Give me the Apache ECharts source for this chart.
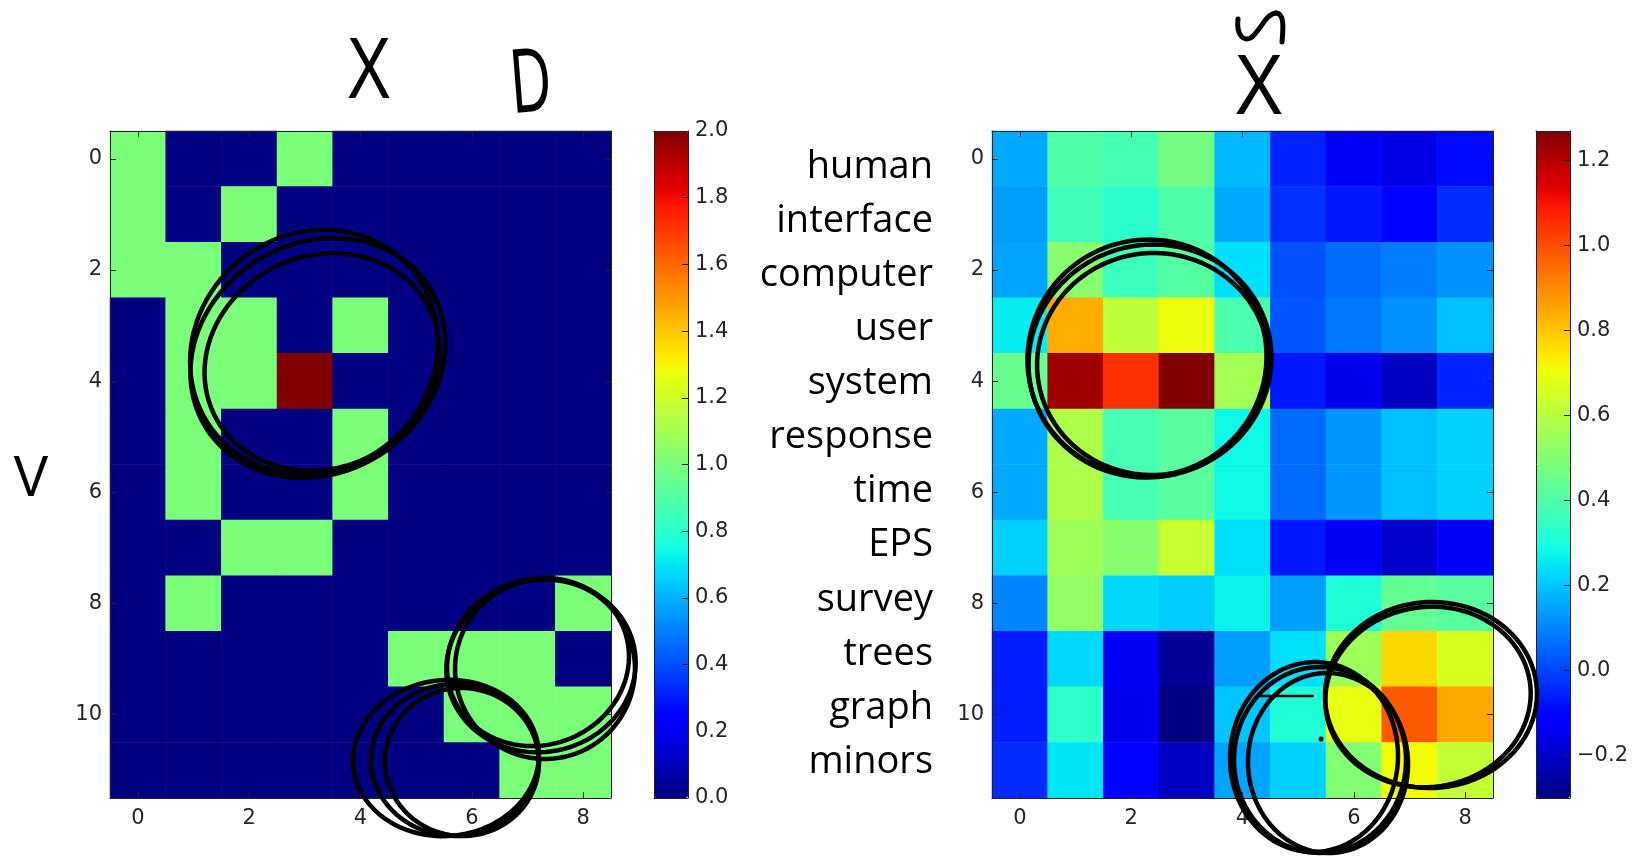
<!DOCTYPE html>
<html>
<head>
<meta charset="utf-8">
<script src="https://cdn.jsdelivr.net/npm/echarts@6/dist/echarts.min.js"></script>
<style>html,body{margin:0;padding:0;background:#fff}#c{width:1633px;height:865px}</style>
</head>
<body>
<div id="c"></div>
<script>
// ---- data ----
const terms = ['human','interface','computer','user','system','response','time','EPS','survey','trees','graph','minors'];
const colLabels = ['0','1','2','3','4','5','6','7','8'];
const rowLabels = ['0','1','2','3','4','5','6','7','8','9','10','11'];
// term-document counts X
const countsX = [
  [1,0,0,1,0,0,0,0,0],
  [1,0,1,0,0,0,0,0,0],
  [1,1,0,0,0,0,0,0,0],
  [0,1,1,0,1,0,0,0,0],
  [0,1,1,2,0,0,0,0,0],
  [0,1,0,0,1,0,0,0,0],
  [0,1,0,0,1,0,0,0,0],
  [0,0,1,1,0,0,0,0,0],
  [0,1,0,0,0,0,0,0,1],
  [0,0,0,0,0,1,1,1,0],
  [0,0,0,0,0,0,1,1,1],
  [0,0,0,0,0,0,0,1,1]
];
// smoothed reconstruction X^s
const smoothXs = [
  [ 0.16, 0.40, 0.38, 0.47, 0.18,-0.05,-0.12,-0.16,-0.09],
  [ 0.14, 0.37, 0.33, 0.40, 0.16,-0.03,-0.07,-0.10,-0.04],
  [ 0.15, 0.51, 0.36, 0.41, 0.24, 0.02, 0.06, 0.09, 0.12],
  [ 0.26, 0.84, 0.61, 0.70, 0.39, 0.03, 0.08, 0.12, 0.19],
  [ 0.45, 1.23, 1.05, 1.27, 0.56,-0.07,-0.15,-0.21,-0.05],
  [ 0.16, 0.58, 0.38, 0.42, 0.28, 0.06, 0.13, 0.19, 0.22],
  [ 0.16, 0.58, 0.38, 0.42, 0.28, 0.06, 0.13, 0.19, 0.22],
  [ 0.22, 0.55, 0.51, 0.63, 0.24,-0.07,-0.14,-0.20,-0.11],
  [ 0.10, 0.53, 0.23, 0.21, 0.27, 0.14, 0.31, 0.44, 0.42],
  [-0.06, 0.23,-0.14,-0.27, 0.14, 0.24, 0.55, 0.77, 0.66],
  [-0.06, 0.34,-0.15,-0.30, 0.20, 0.31, 0.69, 0.98, 0.85],
  [-0.04, 0.25,-0.10,-0.21, 0.15, 0.22, 0.50, 0.71, 0.62]
];
const leftRange = [0, 2];

// ---- helpers ----
function toCells(m){ const out=[]; m.forEach((row,r)=>row.forEach((v,c)=>out.push([c,r,v]))); return out; }
function pw(pts,t){ for(let i=1;i<pts.length;i++){ if(t<=pts[i][0]){ const [x0,y0]=pts[i-1],[x1,y1]=pts[i]; return y0+(y1-y0)*(t-x0)/(x1-x0);} } return pts[pts.length-1][1]; }
function jet(t){
  const r=pw([[0,0],[0.35,0],[0.66,1],[0.89,1],[1,0.5]],t);
  const g=pw([[0,0],[0.125,0],[0.375,1],[0.64,1],[0.91,0],[1,0]],t);
  const b=pw([[0,0.5],[0.11,1],[0.34,1],[0.65,0],[1,0]],t);
  const h=v=>Math.round(v*255).toString(16).padStart(2,'0');
  return '#'+h(r)+h(g)+h(b);
}
const jetColors=[]; for(let i=0;i<=128;i++) jetColors.push(jet(i/128));
const allXs = smoothXs.flat();
const rightRange = [Math.min(...allXs), Math.max(...allXs)];

const tickFont = {fontFamily:'DejaVu Sans', fontSize:21, color:'#262626'};
const frame = {show:true, onZero:false, lineStyle:{color:'#222', width:1}};
const tickIn = {show:true, inside:true, length:6, interval:1, alignWithLabel:true, lineStyle:{color:'#222'}};

const HM = [{left:110, top:131, width:501, height:667},{left:992, top:131, width:501, height:667}];
const CB = [{left:654, top:131, width:34, height:667},{left:1536, top:131, width:34, height:667}];

const grids=[HM[0],HM[1],CB[0],CB[1],{left:941, top:140, width:1, height:649}];

const xAxes=[]; const yAxes=[];
[0,1].forEach(g=>{
  xAxes.push({gridIndex:g, type:'category', data:colLabels, position:'bottom', z:10, axisLine:frame, axisTick:tickIn, axisLabel:Object.assign({interval:1, margin:10}, tickFont), splitLine:{show:false}});
  xAxes.push({gridIndex:g, type:'category', data:colLabels, position:'top', z:10, axisLine:frame, axisTick:tickIn, axisLabel:{show:false}, splitLine:{show:false}});
  yAxes.push({gridIndex:g, type:'category', data:rowLabels, inverse:true, position:'left', z:10, axisLine:frame, axisTick:tickIn, axisLabel:Object.assign({interval:1, margin:8}, tickFont), splitLine:{show:false}});
  yAxes.push({gridIndex:g, type:'category', data:rowLabels, inverse:true, position:'right', z:10, axisLine:frame, axisTick:tickIn, axisLabel:{show:false}, splitLine:{show:false}});
});
[[2,leftRange,{interval:0.2}],[3,rightRange,{splitNumber:8}]].forEach(([g,rng,extra])=>{
  xAxes.push({gridIndex:g, type:'value', min:0, max:1, position:'bottom', z:10, axisLine:frame, axisTick:{show:false}, axisLabel:{show:false}, splitLine:{show:false}});
  xAxes.push({gridIndex:g, type:'value', min:0, max:1, position:'top', z:10, axisLine:frame, axisTick:{show:false}, axisLabel:{show:false}, splitLine:{show:false}});
  yAxes.push(Object.assign({gridIndex:g, type:'value', min:rng[0], max:rng[1], position:'right', z:10, axisLine:frame,
    axisTick:{show:true, inside:true, length:6, lineStyle:{color:'#222'}},
    axisLabel:Object.assign({margin:7, showMinLabel:g===2, showMaxLabel:g===2, formatter:v=>(v<0?'\u2212':'')+Math.abs(v).toFixed(1)}, tickFont),
    splitLine:{show:false}}, extra));
  yAxes.push({gridIndex:g, type:'value', min:rng[0], max:rng[1], position:'left', z:10, axisLine:frame, axisTick:{show:false}, axisLabel:{show:false}, splitLine:{show:false}});
});
xAxes.push({gridIndex:4, type:'value', show:false});
yAxes.push({gridIndex:4, type:'category', data:terms, inverse:true, position:'left', axisLine:{show:false}, axisTick:{show:false},
  axisLabel:{margin:8, fontFamily:'Open Sans', fontSize:38, color:'#000'}, splitLine:{show:false}});

// ---- annotations (hand-drawn marks) ----
const ink = {stroke:'#000', lineWidth:4.5, fill:null, lineCap:'round', lineJoin:'round'};
function ell(cx,cy,rx,ry,rot){
  const pts=[]; const c=Math.cos(rot||0), s=Math.sin(rot||0);
  for(let i=0;i<=96;i++){ const a=i/96*Math.PI*2; const ex=rx*Math.cos(a), ey=ry*Math.sin(a); pts.push([cx+ex*c+ey*s, cy-ex*s+ey*c]); }
  return {type:'polyline', z:100, shape:{points:pts}, style:Object.assign({},ink)};
}
function hand(txt,x,y,size,sx,rot){ return {type:'text', x:x, y:y, scaleX:sx, rotation:rot||0, z:100,
  style:{text:txt, fontFamily:'Liberation Sans', fontSize:size, fill:'#000', align:'center', verticalAlign:'middle', textAlign:'center', textVerticalAlign:'middle'}}; }
function curve(x1,y1,c1x,c1y,c2x,c2y,x2,y2){ return {type:'bezierCurve', z:100, shape:{x1:x1,y1:y1,cpx1:c1x,cpy1:c1y,cpx2:c2x,cpy2:c2y,x2:x2,y2:y2}, style:Object.assign({},ink,{lineWidth:5})}; }
const graphics = [
  hand('X',369,74,88,0.75,0),
  hand('D',531,86,92,0.6,0.08),
  hand('X',1259,90,86,0.85,0),
  hand('V',31,480,58,0.9,0),
  curve(1238,19,1236,35,1244,43,1252,37),
  curve(1252,37,1262,28,1266,14,1276,13),
  curve(1276,13,1285,13,1283,30,1282,42),
  // left middle loops
  ell(318,358,132,115,0.55), ell(322,362,120,106,0.45), ell(314,352,128,118,0.7),
  // left bottom-right loops
  ell(541,666,95,86,0.2), ell(545,669,90,90,-0.1), ell(538,662,92,83,0.35),
  // left bottom loops
  ell(446,758,93,78,0.1), ell(455,760,84,76,0), ell(462,762,77,74,-0.1),
  // right middle loops
  ell(1150,361,122,116,0.3), ell(1153,364,116,111,0.1), ell(1147,358,120,118,0.5),
  // right bottom big loop
  ell(1431,695,106,93,0.05), ell(1428,697,103,90,0.15),
  // right bottom small loops
  ell(1320,760,86,93,0), ell(1328,763,80,90,0.05), ell(1314,757,84,95,-0.05),
  {type:'line', z:100, shape:{x1:1260,y1:696,x2:1314,y2:696}, style:{stroke:'#000', lineWidth:2.5}},
  {type:'circle', z:100, shape:{cx:1321,cy:739,r:2.5}, style:{fill:'#000'}}
];

const chart = echarts.init(document.getElementById('c'), null, {renderer:'canvas'});
chart.setOption({
  animation:false,
  backgroundColor:'#fff',
  grid:grids,
  xAxis:xAxes,
  yAxis:yAxes,
  visualMap:[
    {type:'continuous', seriesIndex:0, min:leftRange[0], max:leftRange[1], inRange:{color:jetColors}, calculable:false, hoverLink:false,
     left:CB[0].left, top:CB[0].top, itemWidth:CB[0].width, itemHeight:CB[0].height, padding:0, text:null, orient:'vertical'},
    {type:'continuous', seriesIndex:1, min:rightRange[0], max:rightRange[1], inRange:{color:jetColors}, calculable:false, hoverLink:false,
     left:CB[1].left, top:CB[1].top, itemWidth:CB[1].width, itemHeight:CB[1].height, padding:0, text:null, orient:'vertical'}
  ],
  series:[
    {type:'heatmap', xAxisIndex:0, yAxisIndex:0, data:toCells(countsX), itemStyle:{borderWidth:0}, emphasis:{disabled:true}, progressive:0},
    {type:'heatmap', xAxisIndex:2, yAxisIndex:2, data:toCells(smoothXs), itemStyle:{borderWidth:0}, emphasis:{disabled:true}, progressive:0},
    {type:'line', xAxisIndex:4, yAxisIndex:4, data:[]},
    {type:'line', xAxisIndex:6, yAxisIndex:6, data:[]},
    {type:'scatter', xAxisIndex:8, yAxisIndex:8, data:[]}
  ],
  graphic:graphics
});
</script>
</body>
</html>
